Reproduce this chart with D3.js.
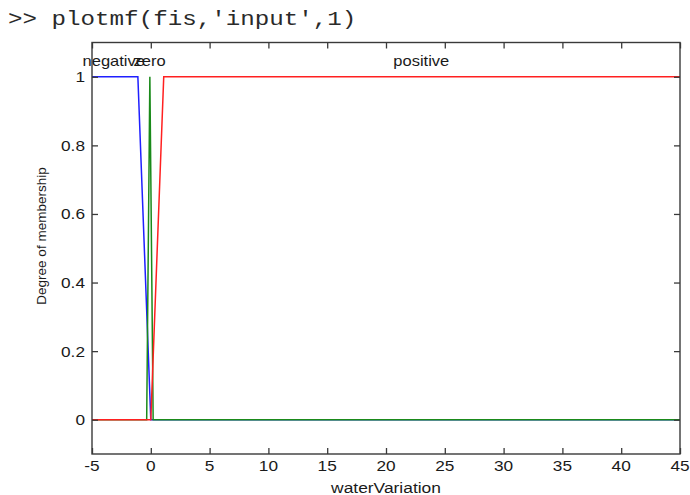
<!DOCTYPE html>
<html>
<head>
<meta charset="utf-8">
<script src="https://cdn.jsdelivr.net/npm/d3@7"></script>
<style>
  html, body { margin: 0; padding: 0; background: #fff; }
  svg { display: block; }
</style>
</head>
<body>
<svg id="chart" width="690" height="495"></svg>
<script>
// Command line shown above the figure
const commandText = ">> plotmf(fis,'input',1)";

// Axis setup
const xDomain = [-5, 45];
const yDomain = [-0.1, 1.1];
const xTicks = [-5, 0, 5, 10, 15, 20, 25, 30, 35, 40, 45];
const yTicks = [0, 0.2, 0.4, 0.6, 0.8, 1];
const yTickLabels = ["0", "0.2", "0.4", "0.6", "0.8", "1"];
const xLabel = "waterVariation";
const yLabel = "Degree of membership";

// Membership functions of the input "waterVariation"
const mfNames = ["negative", "zero", "positive"];
const mfLabelX = [-3.15, -0.1, 23];
const negativeX = [-5, -1.1, 0, 45];
const negativeY = [1, 1, 0, 0];
const zeroX = [-5, -0.35, -0.08, 0.2, 45];
const zeroY = [0, 0, 1, 0, 0];
const positiveX = [-5, 0, 1.1, 45];
const positiveY = [0, 0, 1, 1];
const mfColors = ["#1f1fff", "#1a8a1a", "#ff2020"];

const svg = d3.select("#chart");
const plotLeft = 92, plotRight = 680, plotTop = 42.5, plotBottom = 454;
const TX = 1.15; // horizontal stretch applied to text glyphs

const x = d3.scaleLinear().domain(xDomain).range([plotLeft, plotRight]);
const y = d3.scaleLinear().domain(yDomain).range([plotBottom, plotTop]);

function stretchedText(g, px, py, str, opts) {
  return g.append("text")
    .attr("transform", `translate(${px},${py}) scale(${opts.sx || TX},1)`)
    .attr("text-anchor", opts.anchor || "middle")
    .attr("font-family", opts.family || "'Liberation Sans', Arial, sans-serif")
    .attr("font-size", opts.size || 14)
    .attr("fill", opts.fill || "#1a1a1a")
    .text(str);
}

// Command prompt line
stretchedText(svg, 8, 25, commandText,
  { anchor: "start", family: "'Courier New', 'Liberation Mono', monospace", size: 20, sx: 1.21, fill: "#2a2a2a" });

// Membership function curves (drawn in order so later ones sit on top)
const series = [
  { xs: negativeX, ys: negativeY },
  { xs: zeroX, ys: zeroY },
  { xs: positiveX, ys: positiveY }
];
const line = d3.line().x(d => x(d[0])).y(d => y(d[1]));
const plot = svg.append("g");
series.forEach((s, i) => {
  plot.append("path")
    .datum(s.xs.map((v, k) => [v, s.ys[k]]))
    .attr("d", line)
    .attr("fill", "none")
    .attr("stroke", mfColors[i])
    .attr("stroke-width", 1.5);
});

// MF name labels above each peak
mfNames.forEach((name, i) => {
  stretchedText(svg, x(mfLabelX[i]), 66, name, { size: 14, sx: 1.18, fill: "#1a1a1a" });
});

// Axes box with inward ticks on all four sides
const axisColor = "#3a3a3a";
const axG = svg.append("g");
const xb = d3.axisBottom(x).tickValues(xTicks).tickSizeInner(-6).tickSizeOuter(0).tickFormat("");
const xt = d3.axisTop(x).tickValues(xTicks).tickSizeInner(-6).tickSizeOuter(0).tickFormat("");
const yl = d3.axisLeft(y).tickValues(yTicks).tickSizeInner(-6).tickSizeOuter(0).tickFormat("");
const yr = d3.axisRight(y).tickValues(yTicks).tickSizeInner(-6).tickSizeOuter(0).tickFormat("");
axG.append("g").attr("transform", `translate(0,${plotBottom})`).call(xb);
axG.append("g").attr("transform", `translate(0,${plotTop})`).call(xt);
axG.append("g").attr("transform", `translate(${plotLeft},0)`).call(yl);
axG.append("g").attr("transform", `translate(${plotRight},0)`).call(yr);
axG.selectAll(".domain").remove();
axG.selectAll(".tick line").attr("stroke", axisColor).attr("stroke-width", 1.3);
axG.append("rect")
  .attr("x", plotLeft).attr("y", plotTop)
  .attr("width", plotRight - plotLeft).attr("height", plotBottom - plotTop)
  .attr("fill", "none").attr("stroke", axisColor).attr("stroke-width", 1.4);

// Tick labels
xTicks.forEach(v => {
  stretchedText(svg, x(v), 471, String(v), { size: 15 });
});
yTicks.forEach((v, i) => {
  stretchedText(svg, 85, y(v) + 5.5, yTickLabels[i], { anchor: "end", size: 15 });
});

// Axis titles
stretchedText(svg, (plotLeft + plotRight) / 2, 493, xLabel, { size: 14.5, sx: 1.2 });
svg.append("text")
  .attr("transform", `translate(46,236) rotate(-90)`)
  .attr("text-anchor", "middle")
  .attr("font-family", "'Liberation Sans', Arial, sans-serif")
  .attr("font-size", 13.5)
  .attr("fill", "#1a1a1a")
  .text(yLabel);
</script>
</body>
</html>
